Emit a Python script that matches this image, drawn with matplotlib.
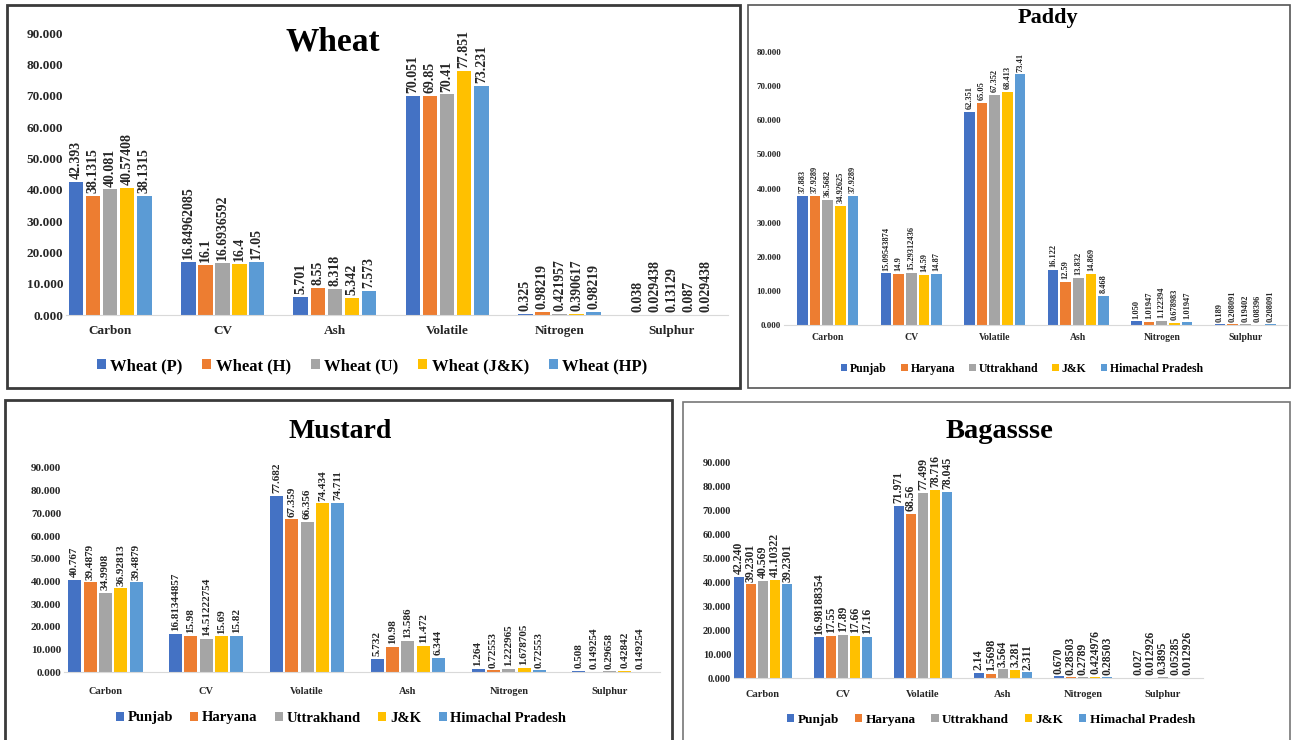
import matplotlib
matplotlib.use("Agg")
import matplotlib.pyplot as plt
from matplotlib.patches import Rectangle, Patch

plt.rcParams['font.family'] = ['Liberation Serif', 'DejaVu Serif']
plt.rcParams['font.weight'] = 'bold'

W, H = 1293, 740
colors = ["#4472C4", "#ED7D31", "#A5A5A5", "#FFC000", "#5B9BD5"]

# ---------------- Wheat ----------------
wheat_categories = ["Carbon", "CV", "Ash", "Volatile", "Nitrogen", "Sulphur"]
wheat_series = ["Wheat (P)", "Wheat (H)", "Wheat (U)", "Wheat (J&K)", "Wheat (HP)"]
wheat_p = ["42.393", "16.84962085", "5.701", "70.051", "0.325", "0.038"]
wheat_h = ["38.1315", "16.1", "8.55", "69.85", "0.98219", "0.029438"]
wheat_u = ["40.081", "16.6936592", "8.318", "70.41", "0.421957", "0.13129"]
wheat_jk = ["40.57408", "16.4", "5.342", "77.851", "0.390617", "0.087"]
wheat_hp = ["38.1315", "17.05", "7.573", "73.231", "0.98219", "0.029438"]

# ---------------- Paddy ----------------
paddy_categories = ["Carbon", "CV", "Volatile", "Ash", "Nitrogen", "Sulphur"]
state_series = ["Punjab", "Haryana", "Uttrakhand", "J&K", "Himachal Pradesh"]
paddy_punjab = ["37.883", "15.09543874", "62.351", "16.122", "1.050", "0.189"]
paddy_haryana = ["37.9289", "14.9", "65.05", "12.59", "1.01947", "0.208091"]
paddy_uttrakhand = ["36.5682", "15.29312436", "67.352", "13.832", "1.122394", "0.19402"]
paddy_jk = ["34.92625", "14.59", "68.413", "14.869", "0.678983", "0.08396"]
paddy_hp = ["37.9289", "14.87", "73.41", "8.468", "1.01947", "0.208091"]

# ---------------- Mustard ----------------
mustard_categories = ["Carbon", "CV", "Volatile", "Ash", "Nitrogen", "Sulphur"]
mustard_punjab = ["40.767", "16.81344857", "77.682", "5.732", "1.264", "0.508"]
mustard_haryana = ["39.4879", "15.98", "67.359", "10.98", "0.72553", "0.149254"]
mustard_uttrakhand = ["34.9908", "14.51222754", "66.356", "13.586", "1.222965", "0.29658"]
mustard_jk = ["36.92813", "15.69", "74.434", "11.472", "1.678705", "0.42842"]
mustard_hp = ["39.4879", "15.82", "74.711", "6.344", "0.72553", "0.149254"]

# ---------------- Bagasse ----------------
bagasse_categories = ["Carbon", "CV", "Volatile", "Ash", "Nitrogen", "Sulphur"]
bagasse_punjab = ["42.240", "16.98188354", "71.971", "2.14", "0.670", "0.027"]
bagasse_haryana = ["39.2301", "17.55", "68.56", "1.5698", "0.28503", "0.012926"]
bagasse_uttrakhand = ["40.569", "17.89", "77.499", "3.564", "0.2789", "0.3895"]
bagasse_jk = ["41.10322", "17.66", "78.716", "3.281", "0.424976", "0.05285"]
bagasse_hp = ["39.2301", "17.16", "78.045", "2.311", "0.28503", "0.012926"]

fig = plt.figure(figsize=(W / 100, H / 100), dpi=100)
fig.patch.set_facecolor("white")


def frac_rect(x0, y0, x1, y1):
    return [x0 / W, 1 - y1 / H, (x1 - x0) / W, (y1 - y0) / H]


def frame(x0, y0, x1, y1, lw, color):
    fig.add_artist(Rectangle((x0 / W, 1 - y1 / H), (x1 - x0) / W, (y1 - y0) / H,
                             transform=fig.transFigure, fill=False,
                             linewidth=lw, edgecolor=color, zorder=0))


def panel(area, ymax, categories, series_names, series_values, title, title_xy,
          title_size, tick_size, tick_edge, cat_size, cat_pad, label_size,
          legend_xy, legend_size):
    band_left, top, right, bottom = area
    n = len(categories)
    spacing = (right - band_left) / n
    # the axes begin just right of the value labels; the category bands keep
    # their full width by starting the x range slightly inside the first band
    ax_left = tick_edge + 3
    ax = fig.add_axes(frac_rect(ax_left, top, right, bottom))
    pitch, width = 0.152, 0.128
    for i, (name, vals) in enumerate(zip(series_names, series_values)):
        nums = [float(v) for v in vals]
        xs = [k + (i - 2) * pitch for k in range(n)]
        ax.bar(xs, nums, width=width, color=colors[i], label=name, zorder=2)
        for x, v, s in zip(xs, nums, vals):
            ax.annotate(s, (x, v), xytext=(0, 2), textcoords="offset points",
                        rotation=90, ha="center", va="bottom",
                        fontsize=label_size, color="#262626",
                        fontweight="bold", annotation_clip=False)
    ax.set_xlim(-0.5 + (ax_left - band_left) / spacing, n - 0.5)
    ax.set_ylim(0, ymax)
    ax.set_yticks(range(0, ymax + 1, 10))
    ax.set_yticklabels([f"{v:.3f}" for v in range(0, ymax + 1, 10)],
                       fontsize=tick_size, color="#262626")
    ax.set_xticks(range(n))
    ax.set_xticklabels(categories, fontsize=cat_size, color="#262626")
    ax.tick_params(axis="both", length=0)
    ax.tick_params(axis="x", pad=cat_pad)
    ax.tick_params(axis="y", pad=2)
    for side in ("top", "right", "left"):
        ax.spines[side].set_visible(False)
    ax.spines["bottom"].set_color("#d9d9d9")
    ax.set_facecolor("none")
    fig.text(title_xy[0] / W, 1 - title_xy[1] / H, title, fontsize=title_size,
             fontweight="bold", ha="center", va="center", color="black")
    handles = [Patch(facecolor=c, edgecolor="none") for c in colors]
    fig.legend(handles, series_names, loc="center",
               bbox_to_anchor=(legend_xy[0] / W, 1 - legend_xy[1] / H),
               ncol=5, frameon=False,
               handlelength=0.55, handleheight=0.55, handletextpad=0.25,
               columnspacing=1.2, prop={"weight": "bold", "size": legend_size})
    return ax


# panel frames
frame(7, 5, 740, 388, 2.0, "#3a3a3a")
frame(748, 5, 1290, 388, 1.2, "#555555")
frame(5, 400, 672, 745, 2.0, "#3a3a3a")
frame(683, 402, 1290, 745, 1.2, "#777777")

panel((54, 33, 728, 315), 90, wheat_categories, wheat_series,
      [wheat_p, wheat_h, wheat_u, wheat_jk, wheat_hp],
      "Wheat", (333, 42), 24, 9.5, 63, 9.5, 7.5, 10, (372, 366), 12)

panel((786, 52, 1287, 325), 80, paddy_categories, state_series,
      [paddy_punjab, paddy_haryana, paddy_uttrakhand, paddy_jk, paddy_hp],
      "Paddy", (1048, 18), 16, 6.5, 781, 7, 5.5, 6, (1022, 369), 8.5)

panel((55, 468, 660, 672), 90, mustard_categories, state_series,
      [mustard_punjab, mustard_haryana, mustard_uttrakhand, mustard_jk, mustard_hp],
      "Mustard", (340, 432), 20, 8, 61, 7.5, 11, 8, (341, 718), 10.5)

panel((723, 463, 1203, 678), 90, bagasse_categories, state_series,
      [bagasse_punjab, bagasse_haryana, bagasse_uttrakhand, bagasse_jk, bagasse_hp],
      "Bagassse", (999, 432), 20.5, 7.5, 731, 7.5, 8.5, 8.5, (991, 720), 9.5)

fig.savefig("out.png", dpi=100, facecolor="white")
